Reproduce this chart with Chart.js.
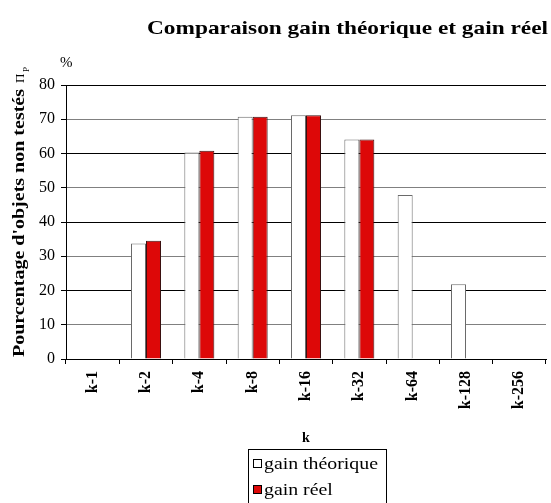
<!DOCTYPE html>
<html>
<head>
<meta charset="utf-8">
<script src="https://cdn.jsdelivr.net/npm/chart.js@4/dist/chart.umd.min.js"></script>
<style>
  html, body { margin: 0; padding: 0; background: #ffffff; }
  #wrap { width: 551px; height: 503px; }
</style>
</head>
<body>
<div id="wrap"><canvas id="c" width="551" height="503"></canvas></div>
<script>
// Chart data
const categories = ['k-1', 'k-2', 'k-4', 'k-8', 'k-16', 'k-32', 'k-64', 'k-128', 'k-256'];
const gainTheorique = [0, 33.7, 60.3, 70.7, 71.2, 64.1, 47.9, 21.8, 0];
const gainReel = [null, 34.5, 60.8, 70.7, 71.2, 64.1, null, null, null];
const yTicks = [0, 10, 20, 30, 40, 50, 60, 70, 80];
const seriesNames = ['gain théorique', 'gain réel'];
const chartTitle = 'Comparaison gain théorique et gain réel';
const yTitle = "Pourcentage d'objets non testés";
const yTitleSymbol = 'Π';
const yTitleSub = 'P';
const yUnit = '%';
const xTitle = 'k';

const SERIF = '"Liberation Serif", "DejaVu Serif", serif';

// Draws text stretched horizontally to a given width
function fitText(ctx, text, x, y, width) {
  const w = ctx.measureText(text).width;
  ctx.save();
  ctx.translate(x, y);
  ctx.scale(width / w, 1);
  ctx.fillText(text, 0, 0);
  ctx.restore();
}

// Extra drawing: chart title, rotated y-axis title, unit and boxed legend
const extras = {
  id: 'extras',
  afterDraw(chart) {
    const ctx = chart.ctx;
    ctx.save();
    ctx.fillStyle = '#000';
    ctx.textAlign = 'left';
    ctx.textBaseline = 'alphabetic';

    // Title, right-aligned above the plot
    ctx.font = 'bold 19px ' + SERIF;
    fitText(ctx, chartTitle, 147, 34, 401);

    // Unit above the y axis
    ctx.font = '15px ' + SERIF;
    ctx.fillText(yUnit, 60, 67);

    // Rotated y-axis title
    ctx.save();
    ctx.translate(24, 357);
    ctx.rotate(-Math.PI / 2);
    ctx.font = 'bold 16px ' + SERIF;
    const target = 268;
    fitText(ctx, yTitle, 0, 0, target);
    ctx.font = '13px ' + SERIF;
    ctx.fillText(yTitleSymbol, target + 6, 0);
    ctx.font = '9px ' + SERIF;
    ctx.fillText(yTitleSub, target + 17, 5);
    ctx.restore();

    // Legend box
    const bx = 248.5, by = 449.5, bw = 138, bh = 70;
    ctx.strokeStyle = '#000';
    ctx.lineWidth = 1;
    ctx.strokeRect(bx, by, bw, bh);
    ctx.font = '16px ' + SERIF;
    const scaleX = 114 / ctx.measureText(chart.data.datasets[0].label).width;
    chart.data.datasets.forEach((ds, i) => {
      const y = 459 + i * 26;
      ctx.fillStyle = ds.backgroundColor;
      ctx.fillRect(253, y, 9, 9);
      ctx.strokeStyle = '#000';
      ctx.strokeRect(253.5, y + 0.5, 8, 8);
      ctx.fillStyle = '#000';
      fitText(ctx, ds.label, 264, y + 10, ctx.measureText(ds.label).width * scaleX);
    });
    ctx.restore();
  }
};

new Chart(document.getElementById('c'), {
  type: 'bar',
  data: {
    labels: categories,
    datasets: [
      { label: seriesNames[0], data: gainTheorique, backgroundColor: '#ffffff', borderColor: '#6a6a6a', borderWidth: 1 },
      { label: seriesNames[1], data: gainReel, backgroundColor: '#dd0808', borderColor: '#3a1010', borderWidth: 1 }
    ]
  },
  options: {
    responsive: false,
    animation: false,
    devicePixelRatio: 1,
    layout: { padding: { top: 85, right: 5, left: 0, bottom: 54 } },
    datasets: { bar: { barPercentage: 1, categoryPercentage: 0.5625 } },
    plugins: {
      legend: { display: false },
      title: { display: false },
      tooltip: { enabled: false }
    },
    scales: {
      x: {
        grid: { offset: true, drawOnChartArea: false, tickLength: 5, color: '#000', tickColor: '#000' },
        border: { color: '#000' },
        ticks: {
          autoSkip: false, minRotation: 90, maxRotation: 90, padding: 7, color: '#000',
          font: { family: SERIF, weight: 'bold', size: 16 }
        },
        title: {
          display: true, text: xTitle, color: '#000',
          font: { family: SERIF, weight: 'bold', size: 14 },
          padding: { top: 0, bottom: 2 }
        },
        afterFit: s => { s.height = 90; }
      },
      y: {
        min: 0, max: 80,
        afterBuildTicks: s => { s.ticks = yTicks.map(v => ({ value: v })); },
        grid: {
          color: c => (c.tick && c.tick.value % 20 === 0) ? '#000000' : '#808080',
          tickColor: '#000', tickLength: 5, lineWidth: 1
        },
        border: { color: '#000' },
        ticks: { color: '#000', padding: 6, font: { family: SERIF, size: 16 } },
        afterFit: s => { s.width = 66; }
      }
    }
  },
  plugins: [extras]
});
</script>
</body>
</html>
